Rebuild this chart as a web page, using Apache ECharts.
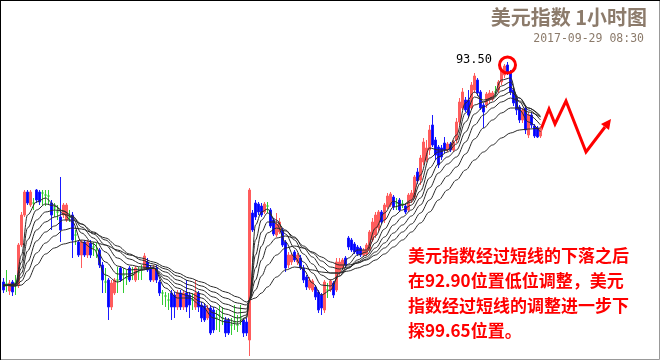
<!DOCTYPE html>
<html><head><meta charset="utf-8">
<script src="https://cdn.jsdelivr.net/npm/echarts@6/dist/echarts.min.js"></script>
<style>html,body{margin:0;padding:0;background:#fff}#c{width:660px;height:360px}</style>
</head><body><div id="c"></div>
<script>
// hourly candles: [open, close, low, high]
const candles = [
[91.30,91.22,91.19,91.34],[91.28,91.28,91.20,91.42],[91.21,91.29,91.17,91.32],[91.30,91.20,91.16,91.32],[91.29,91.29,91.17,91.37],
[91.27,91.67,91.24,91.69],[91.67,91.97,91.65,92.00],[91.97,92.20,91.95,92.22],[92.20,92.09,92.07,92.22],[92.07,92.20,92.05,92.22],
[92.09,92.09,92.02,92.14],[92.22,92.12,92.09,92.23],[92.20,92.10,92.07,92.22],[92.19,92.19,92.07,92.22],[92.17,92.17,92.06,92.22],
[92.16,92.16,92.07,92.22],[92.09,91.97,91.82,92.12],[92.04,92.04,91.95,92.09],[92.00,92.00,91.92,92.07],[91.95,91.82,91.70,92.35],
[91.97,92.07,91.94,92.09],[91.92,92.07,91.90,92.09],[91.95,91.95,91.90,92.02],[91.97,91.72,91.54,92.00],[91.77,91.77,91.67,91.82],
[91.70,91.57,91.55,91.72],[91.57,91.70,91.44,91.72],[91.70,91.57,91.55,91.72],[91.57,91.70,91.54,91.72],[91.69,91.57,91.54,91.72],
[91.65,91.65,91.56,91.70],[91.62,91.62,91.54,91.69],[91.62,91.47,91.44,91.64],[91.47,91.32,91.19,91.50],[91.30,91.30,91.19,91.44],
[91.32,91.05,90.92,91.34],[91.05,91.29,91.02,91.32],[91.19,91.32,91.17,91.34],[91.32,91.32,91.19,91.45],[91.44,91.32,91.30,91.46],
[91.37,91.37,91.19,91.44],[91.34,91.34,91.27,91.42],[91.44,91.32,91.30,91.46],[91.37,91.37,91.32,91.45],[91.32,91.44,91.30,91.46],
[91.40,91.40,91.32,91.45],[91.42,91.42,91.32,91.47],[91.44,91.56,91.42,91.59],[91.50,91.42,91.40,91.54],[91.44,91.32,91.30,91.47],
[91.32,91.44,91.30,91.47],[91.44,91.32,91.29,91.47],[91.30,91.19,91.16,91.32],[91.19,91.19,91.07,91.22],[91.16,91.16,91.05,91.20],
[91.12,91.12,91.02,91.19],[91.19,91.05,90.92,91.22],[91.17,91.05,90.94,91.20],[91.05,91.19,91.02,91.22],[91.19,91.05,91.02,91.22],
[91.05,91.19,91.02,91.22],[91.19,91.05,91.00,91.32],[91.17,91.07,90.94,91.20],[91.12,91.12,91.02,91.19],[91.05,91.19,91.02,91.32],
[91.19,91.05,91.00,91.21],[91.07,90.94,90.90,91.10],[91.06,90.92,90.90,91.09],[90.94,91.04,90.92,91.07],[91.04,90.79,90.77,91.07],
[91.02,90.82,90.79,91.05],[90.94,90.94,90.82,91.02],[90.97,90.97,90.80,91.07],[90.94,90.94,90.87,91.05],[90.92,90.79,90.75,90.95],
[90.92,90.79,90.77,90.94],[90.87,90.87,90.77,90.94],[90.90,90.90,90.82,91.07],[90.87,90.87,90.80,90.97],[90.94,90.94,90.87,91.07],
[90.92,90.79,90.75,90.94],[90.90,90.79,90.76,90.94],[90.72,92.22,90.56,92.24],[91.99,91.82,91.80,92.02],[92.09,91.95,91.92,92.12],
[92.08,92.00,91.97,92.10],[92.06,91.97,91.95,92.09],[92.00,92.08,91.98,92.10],[92.06,92.06,91.99,92.10],[92.02,91.86,91.84,92.04],
[91.92,91.78,91.76,91.94],[91.77,91.88,91.75,91.99],[91.80,91.90,91.78,91.94],[91.82,91.67,91.65,91.84],[91.70,91.44,91.40,91.72],
[91.47,91.57,91.44,91.60],[91.50,91.57,91.47,91.59],[91.60,91.52,91.50,91.62],[91.50,91.57,91.47,91.59],[91.54,91.44,91.42,91.57],
[91.44,91.32,91.29,91.47],[91.35,91.25,91.22,91.37],[91.24,91.32,91.22,91.35],[91.22,91.31,91.20,91.33],[91.25,91.15,91.12,91.27],
[91.20,91.02,90.99,91.22],[91.17,91.04,90.97,91.19],[91.02,91.30,90.99,91.32],[91.22,91.22,91.14,91.29],[91.22,91.31,91.20,91.33],
[91.29,91.17,91.14,91.31],[91.22,91.50,91.20,91.54],[91.40,91.50,91.37,91.54],[91.44,91.52,91.42,91.54],[91.54,91.47,91.44,91.56],
[91.74,91.65,91.62,91.76],[91.72,91.62,91.60,91.74],[91.68,91.60,91.58,91.70],[91.65,91.58,91.56,91.67],[91.64,91.57,91.55,91.66],
[91.57,91.62,91.55,91.64],[91.58,91.67,91.56,91.69],[91.62,91.80,91.60,91.82],[91.72,91.90,91.70,91.94],[91.77,91.97,91.74,92.00],
[91.84,92.00,91.81,92.02],[92.00,91.90,91.88,92.02],[91.92,92.07,91.89,92.09],[92.05,92.16,92.03,92.19],[92.07,92.18,92.05,92.20],
[92.15,92.05,92.02,92.17],[92.09,92.09,92.02,92.14],[92.12,92.02,92.00,92.14],[92.08,92.08,92.04,92.12],[92.06,92.00,91.98,92.08],
[92.02,92.17,92.00,92.19],[92.12,92.19,92.09,92.22],[92.15,92.35,92.13,92.37],[92.40,92.31,92.28,92.44],[92.32,92.54,92.27,92.57],
[92.50,92.70,92.47,92.74],[92.52,92.64,92.50,92.72],[92.62,92.82,92.57,92.87],[92.87,92.67,92.65,92.97],[92.72,92.57,92.52,92.75],
[92.65,92.47,92.44,92.67],[92.64,92.55,92.52,92.67],[92.69,92.62,92.59,92.75],[92.62,92.68,92.60,92.70],[92.68,92.62,92.60,92.70],
[92.62,92.70,92.60,92.72],[92.72,92.90,92.69,92.94],[92.90,93.10,92.87,93.14],[93.04,93.20,93.02,93.24],[93.12,93.02,93.00,93.15],
[93.12,92.97,92.94,93.22],[93.04,93.27,93.02,93.30],[93.22,93.36,93.19,93.39],[93.32,93.19,93.16,93.34],[93.20,93.04,93.02,93.22],
[93.07,93.00,92.84,93.09],[93.07,93.18,93.04,93.20],[93.12,93.19,93.09,93.22],[93.13,93.19,93.11,93.21],[93.20,93.20,93.15,93.26],
[93.22,93.30,93.19,93.32],[93.30,93.42,93.27,93.44],[93.37,93.46,93.34,93.48],[93.47,93.40,93.37,93.50],[93.39,93.20,93.17,93.42],
[93.22,93.09,93.06,93.24],[93.14,93.02,92.97,93.16],[93.05,92.92,92.89,93.07],[92.92,93.02,92.89,93.04],[93.04,92.82,92.78,93.06],
[92.77,92.97,92.74,93.00],[92.97,92.87,92.84,92.99],[92.86,92.76,92.74,92.88],[92.84,92.75,92.74,92.86],[92.76,92.84,92.74,92.86]
];

// moving-average readings at selected candles (fast -> slow)
const maIndex = [0,4,6,8,11,14,17,20,23,26,30,34,38,42,46,50,54,58,62,66,70,74,78,81,
  82,84,86,88,91,94,97,100,103,106,109,112,115,118,121,124,127,130,133,136,139,142,145,148,151,154,157,160,163,166,169,172,175,179];
const ma1 = [91.26,91.28,91.57,91.97,92.10,92.14,92.07,91.98,91.90,91.70,91.63,91.37,91.30,91.36,91.42,91.44,91.24,91.14,91.14,91.06,90.94,90.90,90.88,90.94,
  91.12,91.87,92.00,92.03,91.88,91.70,91.55,91.42,91.29,91.17,91.22,91.39,91.54,91.62,91.62,91.84,91.99,92.11,92.07,92.12,92.37,92.64,92.62,92.62,92.77,93.09,93.20,93.10,93.15,93.32,93.34,93.02,92.90,92.80];
const ma2 = [91.26,91.28,91.50,91.84,92.02,92.08,92.06,92.01,91.94,91.79,91.68,91.50,91.38,91.38,91.42,91.44,91.29,91.19,91.16,91.10,90.99,90.93,90.90,90.95,
  91.12,91.72,91.92,91.99,91.92,91.78,91.64,91.50,91.39,91.27,91.26,91.36,91.48,91.57,91.60,91.76,91.92,92.05,92.07,92.10,92.29,92.54,92.60,92.62,92.72,92.99,93.15,93.12,93.14,93.26,93.30,93.10,92.97,92.87];
const ma3 = [91.26,91.27,91.44,91.72,91.92,92.00,92.02,92.01,91.96,91.85,91.74,91.60,91.46,91.42,91.43,91.44,91.33,91.24,91.19,91.14,91.05,90.98,90.94,90.97,
  91.12,91.57,91.80,91.90,91.90,91.82,91.72,91.58,91.48,91.37,91.32,91.36,91.44,91.52,91.57,91.69,91.83,91.96,92.02,92.07,92.21,92.44,92.55,92.60,92.68,92.90,93.07,93.10,93.13,93.21,93.25,93.14,93.02,92.92];
const ma4 = [91.27,91.27,91.39,91.61,91.82,91.90,91.95,91.98,91.95,91.88,91.78,91.67,91.54,91.47,91.45,91.44,91.36,91.28,91.23,91.18,91.10,91.03,90.99,91.00,
  91.12,91.44,91.66,91.79,91.84,91.81,91.75,91.64,91.55,91.45,91.39,91.39,91.44,91.50,91.55,91.64,91.75,91.87,91.95,92.02,92.14,92.34,92.48,92.55,92.62,92.80,92.98,93.05,93.10,93.16,93.20,93.14,93.04,92.95];
const ma5 = [91.27,91.27,91.35,91.50,91.71,91.80,91.86,91.92,91.92,91.88,91.80,91.72,91.61,91.53,91.48,91.46,91.40,91.32,91.27,91.22,91.15,91.08,91.04,91.03,
  91.12,91.32,91.52,91.66,91.74,91.76,91.74,91.66,91.59,91.51,91.45,91.43,91.45,91.49,91.53,91.60,91.69,91.79,91.87,91.96,92.07,92.24,92.39,92.48,92.55,92.70,92.87,92.97,93.04,93.10,93.14,93.11,93.04,92.96];
const ma6 = [91.27,91.26,91.31,91.41,91.59,91.69,91.76,91.82,91.84,91.83,91.79,91.74,91.66,91.58,91.52,91.48,91.43,91.36,91.31,91.26,91.20,91.14,91.09,91.07,
  91.12,91.22,91.36,91.47,91.57,91.64,91.66,91.64,91.60,91.55,91.50,91.47,91.47,91.49,91.52,91.57,91.64,91.72,91.80,91.88,91.99,92.12,92.26,92.36,92.45,92.58,92.73,92.84,92.92,92.99,93.04,93.04,93.00,92.95];
const ma7 = [91.27,91.26,91.27,91.32,91.47,91.58,91.64,91.68,91.70,91.72,91.70,91.67,91.62,91.57,91.54,91.50,91.45,91.39,91.34,91.30,91.25,91.20,91.15,91.10,
  91.12,91.14,91.19,91.25,91.35,91.42,91.45,91.44,91.42,91.40,91.39,91.39,91.41,91.44,91.47,91.52,91.58,91.65,91.72,91.80,91.89,92.00,92.12,92.22,92.32,92.42,92.52,92.60,92.67,92.74,92.79,92.82,92.83,92.84];

const categories = candles.map((_, i) => 'H' + (i + 1));
const peakIndex = 168;
const peakLabel = '93.50';
const titleText = '美元指数 1小时图';
const timeText = '2017-09-29 08:30';
const noteText = '美元指数经过短线的下落之后\n在92.90位置低位调整，美元\n指数经过短线的调整进一步下\n探99.65位置。';

const maLines = [ma1, ma2, ma3, ma4, ma5, ma6, ma7];
const maSeries = maLines.map(vals => ({
  type: 'line',
  data: maIndex.map((ix, k) => [ix, vals[k]]),
  showSymbol: false,
  smooth: 0.35,
  smoothMonotone: 'x',
  lineStyle: { color: '#2a2a2a', width: 1 },
  z: 4,
  silent: true
}));

const chart = echarts.init(document.getElementById('c'), null, { renderer: 'canvas' });
chart.setOption({
  animation: false,
  backgroundColor: '#ffffff',
  grid: { left: 2, top: 0, width: 540, height: 360 },
  xAxis: { type: 'category', data: categories, show: false, boundaryGap: true },
  yAxis: { type: 'value', min: 90.52, max: 94.12, show: false, splitLine: { show: false } },
  series: [{
    type: 'candlestick',
    data: candles,
    barWidth: 2,
    z: 3,
    itemStyle: {
      color: '#ff5c5c', color0: '#0000ff',
      borderColor: '#ff5c5c', borderColor0: '#1a1aff',
      borderColorDoji: '#33cc33', borderWidth: 1
    },
    markPoint: {
      symbol: 'circle',
      symbolSize: 16,
      silent: true,
      itemStyle: { color: 'rgba(0,0,0,0)', borderColor: '#ff0000', borderWidth: 3 },
      label: {
        show: true, position: 'left', distance: 6, offset: [0, -5],
        formatter: peakLabel, color: '#000', fontSize: 12,
        fontFamily: 'DejaVu Sans Mono'
      },
      data: [{ coord: [categories[peakIndex], 93.47] }]
    }
  }].concat(maSeries),
  graphic: [
    { type: 'text', right: 13, top: 7, style: { text: titleText, fill: '#8c7b6b', font: 'bold 20px "Noto Sans CJK SC"' } },
    { type: 'text', right: 16, top: 33, style: { text: timeText, fill: '#8c7b6b', font: '11.5px "DejaVu Sans Mono"' } },
    { type: 'text', left: 408, top: 243, style: { text: noteText, fill: '#ff0000', font: 'bold 17px "Noto Sans CJK SC"', lineHeight: 25 } },
    { type: 'polyline', shape: { points: [[540,132],[549,109],[555,124],[566,101],[586,152],[605,127]] },
      style: { stroke: '#ff0000', lineWidth: 3, fill: null, lineJoin: 'miter' } },
    { type: 'polygon', shape: { points: [[611,119],[609,130],[601,124]] }, style: { fill: '#ff0000' } },
    { type: 'rect', shape: { x: 0.5, y: 0.5, width: 659, height: 359 }, style: { fill: null, stroke: '#999', lineWidth: 1 } },
    { type: 'line', shape: { x1: 0, y1: 0.5, x2: 660, y2: 0.5 }, style: { stroke: '#000', lineWidth: 1 } },
    { type: 'line', shape: { x1: 0.5, y1: 0, x2: 0.5, y2: 360 }, style: { stroke: '#000', lineWidth: 1 } }
  ]
});
</script>
</body></html>
